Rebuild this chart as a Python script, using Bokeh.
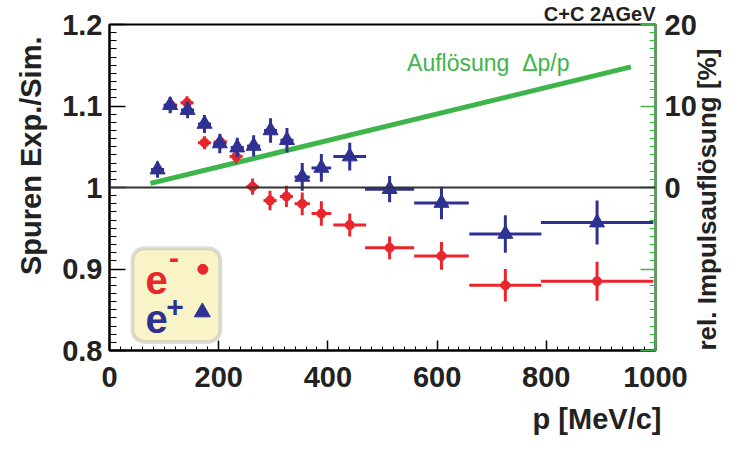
import numpy as np
from math import pi
from bokeh.plotting import figure
from bokeh.models import (Range1d, LinearAxis, FixedTicker, Span, Label, BoxAnnotation,
                          ColumnDataSource, Title)
from bokeh.embed import file_html
from bokeh.resources import INLINE

FONT = "Liberation Sans"
RED = "#e8262c"
BLUE = "#2e3192"
GREEN = "#3db54a"
INK = "#222222"

# e- (red circles): momentum bin centre, half bin width, ratio Exp./Sim., error
em_p = [112, 142, 174, 203, 232, 262, 294, 324, 353, 388, 440, 513, 608, 725, 893]
em_dp = [12, 12, 12, 12, 12, 12, 12, 12, 14, 18, 30, 45, 50, 66, 103]
em_ratio = [1.101, 1.104, 1.055, 1.056, 1.038, 1.001, 0.984, 0.989, 0.980, 0.968,
            0.954, 0.926, 0.916, 0.880, 0.885]
em_err = [0.008, 0.008, 0.008, 0.008, 0.009, 0.010, 0.012, 0.013, 0.014, 0.015,
          0.014, 0.014, 0.017, 0.020, 0.024]

# e+ (blue triangles)
ep_p = [88, 111, 143, 174, 202, 234, 264, 295, 325, 353, 388, 440, 513, 608, 725, 893]
ep_dp = [12, 12, 12, 12, 12, 12, 12, 12, 12, 14, 18, 30, 45, 50, 66, 103]
ep_ratio = [1.022, 1.101, 1.095, 1.078, 1.054, 1.049, 1.051, 1.070, 1.058, 1.013,
            1.024, 1.038, 0.998, 0.981, 0.943, 0.957]
ep_err = [0.010, 0.010, 0.010, 0.011, 0.012, 0.012, 0.013, 0.015, 0.015, 0.017,
          0.017, 0.017, 0.016, 0.020, 0.023, 0.027]

# momentum resolution (right axis, %)
res_p = [75, 955]
res_val = [0.5, 14.8]

y_ticks = [0.8, 0.9, 1.0, 1.1, 1.2]
y_tick_labels = ["0.8", "0.9", "1", "1.1", "1.2"]
r_ticks = [-20, -10, 0, 10, 20]
r_tick_labels = ["", "", "0", "10", "20"]
x_ticks = [0, 200, 400, 600, 800, 1000]

p = figure(width=739, height=445, output_backend="svg", toolbar_location=None,
           x_range=Range1d(0, 1000), y_range=Range1d(0.8, 1.2),
           min_border_left=109, min_border_right=83, min_border_top=24, min_border_bottom=93)
p.extra_y_ranges = {"res": Range1d(-20, 20)}
p.grid.visible = False
p.outline_line_color = "black"
p.outline_line_width = 2
p.background_fill_color = "white"
p.border_fill_color = "white"

p.title.text = "C+C 2AGeV"
p.title.align = "right"
p.title.text_font = FONT
p.title.text_font_style = "bold"
p.title.text_font_size = "20px"
p.title.text_color = INK
p.title.standoff = 0

def style_axis(ax, color="black"):
    ax.axis_line_color = color
    ax.axis_line_width = 2
    ax.major_tick_line_color = color
    ax.minor_tick_line_color = color
    ax.major_tick_line_width = 1.5
    ax.minor_tick_line_width = 1
    ax.major_tick_out = 0
    ax.minor_tick_out = 0
    ax.major_label_text_font = FONT
    ax.major_label_text_font_style = "bold"
    ax.major_label_text_font_size = "29px"
    ax.major_label_text_color = INK
    ax.axis_label_text_font = FONT
    ax.axis_label_text_font_style = "bold"
    ax.axis_label_text_font_size = "26px"
    ax.axis_label_text_color = INK

xa = p.xaxis[0]
xa.ticker = FixedTicker(ticks=x_ticks, minor_ticks=list(range(0, 1001, 20)))
style_axis(xa)
xa.major_tick_in = 10
xa.minor_tick_in = 4
xa.major_label_standoff = 16

ya = p.yaxis[0]
ya.ticker = FixedTicker(ticks=y_ticks, minor_ticks=[round(0.8 + 0.01 * i, 2) for i in range(41)])
ya.major_label_overrides = dict(zip(y_ticks, y_tick_labels))
style_axis(ya)
ya.major_tick_in = 16
ya.minor_tick_in = 7
ya.major_label_standoff = 7

ra = LinearAxis(y_range_name="res",
                ticker=FixedTicker(ticks=r_ticks, minor_ticks=list(range(-20, 21))))
ra.major_label_overrides = dict(zip(r_ticks, r_tick_labels))
style_axis(ra, GREEN)
ra.major_label_text_color = INK
ra.major_tick_in = 15
ra.minor_tick_in = 6
ra.major_label_standoff = 9
ra.axis_label = "rel. Impulsauflösung [%]"
ra.axis_label_standoff = 7
ra.axis_label_orientation = pi / 2
ra.axis_label_align = "start"
p.add_layout(ra, "right")

tkw = dict(text_font=FONT, text_font_style="bold", text_font_size="29px", text_color=INK)
p.add_layout(Title(text="Spuren Exp./Sim.", align="right", offset=12, standoff=25, **tkw), "left")
p.add_layout(Title(text="p [MeV/c]", align="right", offset=-6, standoff=22, **tkw), "below")

# reference line at ratio 1
p.add_layout(Span(location=1.0, dimension="width", line_color="#333333", line_width=2))

# resolution line
p.line(res_p, res_val, y_range_name="res", line_color=GREEN, line_width=5)

def series(xs, dxs, ys, dys, color, marker, size):
    x = np.array(xs, float); dx = np.array(dxs, float)
    y = np.array(ys, float); dy = np.array(dys, float)
    src = ColumnDataSource(dict(x=x, y=y, xl=x - dx, xh=x + dx, yl=y - dy, yh=y + dy))
    p.segment(x0="xl", x1="xh", y0="y", y1="y", source=src, line_color=color, line_width=3)
    p.segment(x0="x", x1="x", y0="yl", y1="yh", source=src, line_color=color, line_width=3)
    p.scatter(x="x", y="y", source=src, marker=marker, size=size,
              fill_color=color, line_color=color)

series(em_p, em_dp, em_ratio, em_err, RED, "circle", 9)
series(ep_p, ep_dp, ep_ratio, ep_err, BLUE, "triangle", 15)

# legend box
p.add_layout(BoxAnnotation(left=42, right=203, top=0.9255, bottom=0.8105, level="underlay",
                           fill_color="#f8f4c8", fill_alpha=1, line_color="#8b9195",
                           line_width=4, border_radius=12))
leg = dict(text_font=FONT, text_font_style="bold", text_baseline="alphabetic")
p.add_layout(Label(x=66, y=0.887, text="e", text_font_size="40px", text_color=RED, **leg))
p.add_layout(Label(x=109, y=0.9135, text="-", text_font_size="30px", text_color=RED, **leg))
p.add_layout(Label(x=66, y=0.8385, text="e", text_font_size="40px", text_color=BLUE, **leg))
p.add_layout(Label(x=104, y=0.853, text="+", text_font_size="30px", text_color=BLUE, **leg))
p.scatter([171], [0.8996], marker="circle", size=10, fill_color=RED, line_color=RED)
p.scatter([170], [0.847], marker="triangle", size=16, fill_color=BLUE, line_color=BLUE)

# resolution label
p.add_layout(Label(x=545, y=1.153, text="Auflösung \u00a0Δp/p", text_font=FONT,
                   text_baseline="alphabetic", text_font_size="23px", text_color=GREEN))

open("out.html", "w").write(file_html(p, INLINE))
